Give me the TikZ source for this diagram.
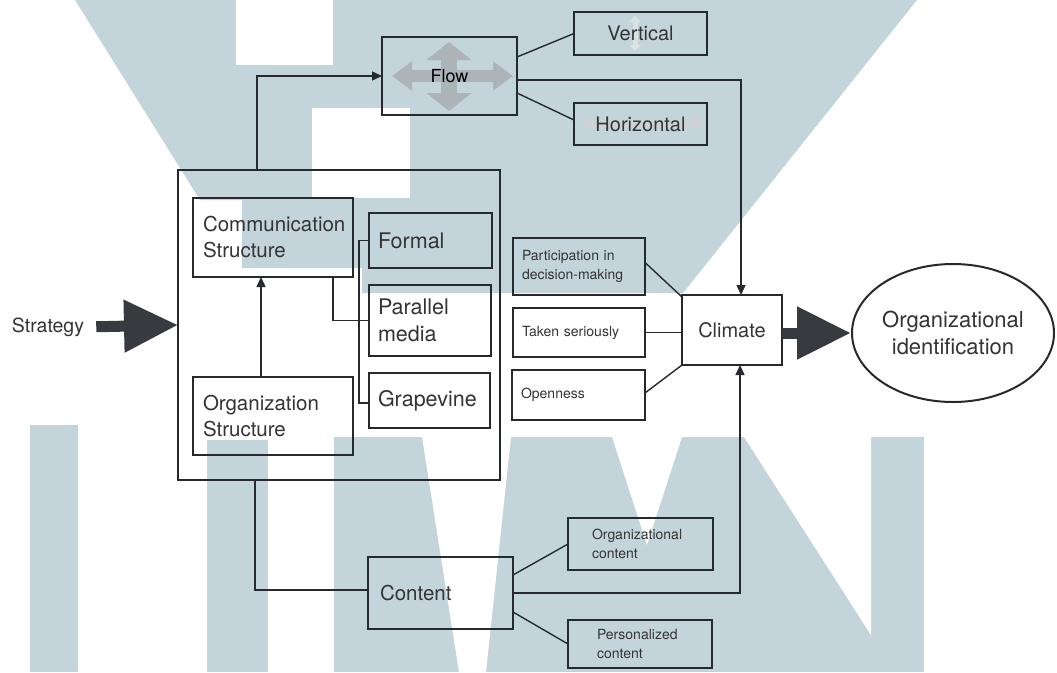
\documentclass[tikz,border=0pt]{standalone}
\usepackage{fontspec}
\setmainfont{TeX Gyre Heros}
\usetikzlibrary{arrows.meta,shapes.geometric,calc}
\definecolor{ink}{RGB}{38,42,46}
\definecolor{txt}{RGB}{52,52,52}
\definecolor{wm}{RGB}{196,212,219}
\definecolor{ghost}{RGB}{172,180,183}
\tikzset{
  bx/.style={draw=ink, line width=1.4pt, inner sep=0pt, outer sep=0pt, text=txt},
  tb/.style={bx, line width=2.4pt},
  bigf/.style={font=\fontsize{20.5}{26}\selectfont},
  smallf/.style={font=\fontsize{14}{19}\selectfont},
  conn/.style={draw=ink, line width=1.4pt},
  arr/.style={conn, -{Triangle[length=10pt,width=9pt]}},
  fat/.style={draw=ink!92, line width=11pt, -{Triangle[length=54pt,width=50pt]}},
}
\begin{document}
\begin{tikzpicture}[x=1pt,y=-1pt]
\useasboundingbox (0,0) rectangle (1057,672);
% background and watermark
\fill[white] (0,0) rectangle (1057,672);
\fill[wm] (75,0) -- (917,0) -- (683,293) -- (362,293) -- (362,268) -- (242,268) -- (242,200) -- (200,200) -- cycle;
\fill[white] (236,0) rectangle (333,65);
\fill[white] (312,108) rectangle (410,198);
\fill[wm] (30,425) rectangle (78,672);
\fill[wm] (207,440) rectangle (268,672);
\fill[wm] (334,437) rectangle (924,672);
\fill[white] (422,437) -- (511,437) -- (486,672) -- (459,672) -- cycle;
\fill[white] (612,437) -- (682,437) -- (647,545) -- cycle;
\fill[white] (744,437) -- (871,437) -- (871,635) -- cycle;

% ghost arrows in Flow / Horizontal / Vertical
\draw[ghost, line width=12pt, {Triangle[length=20pt,width=28pt]}-{Triangle[length=20pt,width=28pt]}] (392,76) -- (513,76);
\draw[ghost, line width=16pt, {Triangle[length=18pt,width=44pt]}-{Triangle[length=18pt,width=44pt]}] (449,42) -- (449,111);
\draw[ghost!60, line width=8pt, {Triangle[length=10pt,width=18pt]}-{Triangle[length=10pt,width=18pt]}] (580,124) -- (704,124);
\draw[ghost!40, line width=5pt, {Triangle[length=6pt,width=12pt]}-{Triangle[length=6pt,width=12pt]}] (635,16) -- (635,51);

% nodes
\node[bx, minimum width=322pt, minimum height=310pt] (big) at (339,325) {};
\node[bx, bigf, minimum width=160pt, minimum height=79pt, inner xsep=10pt, text width=140pt, align=left] (comm) at (273,237.5) {Communication\\Structure};
\node[bx, bigf, minimum width=160pt, minimum height=78pt, inner xsep=10pt, text width=140pt, align=left] (org) at (273,416) {Organization\\Structure};
\node[tb, font=\fontsize{21.5}{27}\selectfont, minimum width=123pt, minimum height=55pt, inner xsep=9pt, text width=105pt, align=left] (formal) at (430.5,240.5) {Formal};
\node[bx, font=\fontsize{21.5}{27}\selectfont, minimum width=122pt, minimum height=71pt, inner xsep=9pt, text width=104pt, align=left] (parallel) at (430,320.5) {Parallel\\media};
\node[bx, font=\fontsize{21.5}{27}\selectfont, minimum width=121pt, minimum height=55pt, inner xsep=9pt, text width=103pt, align=left] (grape) at (429.5,400.5) {Grapevine};

\node[tb, font=\fontsize{18}{22}\selectfont, text=black, minimum width=135pt, minimum height=78pt] (flow) at (449.5,76) {Flow};
\node[tb, font=\fontsize{20}{24}\selectfont, minimum width=133pt, minimum height=43pt] (vert) at (640.5,33.5) {Vertical};
\node[tb, font=\fontsize{20}{24}\selectfont, minimum width=133pt, minimum height=42pt] (horiz) at (640.5,124) {Horizontal};

\node[bx, smallf, minimum width=132pt, minimum height=57pt, inner xsep=9pt, text width=114pt, align=left] (part) at (579,266.5) {Participation in\\decision-making};
\node[bx, smallf, minimum width=132pt, minimum height=49pt, inner xsep=9pt, text width=114pt, align=left] (taken) at (579,332.5) {Taken seriously};
\node[bx, smallf, minimum width=133pt, minimum height=50pt, inner xsep=9pt, text width=115pt, align=left] (open) at (578.5,395) {Openness};
\node[bx, font=\fontsize{20}{24}\selectfont, minimum width=100pt, minimum height=70pt] (climate) at (732,330) {Climate};

\node[draw=ink, line width=2pt, ellipse, inner sep=0pt, minimum width=202pt, minimum height=138pt, text=txt, font=\fontsize{22}{27}\selectfont, align=center] (ident) at (953,333) {Organizational\\identification};

\node[text=txt, font=\fontsize{19.5}{24}\selectfont, inner sep=0pt] (strat) at (48,327) {Strategy};

\node[tb, font=\fontsize{20.5}{25}\selectfont, minimum width=145pt, minimum height=72pt, inner xsep=12pt, text width=121pt, align=left] (content) at (440.5,593) {Content};
\node[tb, smallf, minimum width=145pt, minimum height=52pt, inner xsep=24pt, text width=97pt, align=left] (orgc) at (640.5,544) {Organizational\\content};
\node[tb, smallf, minimum width=144pt, minimum height=48pt, inner xsep=29pt, text width=86pt, align=left] (pers) at (640,644) {Personalized\\content};

% connectors
\draw[arr] ([xshift=-82pt]big.north) |- (flow.west);
\draw[conn] ([yshift=19pt]flow.east) -- (vert.west);
\draw[conn] ([yshift=-17pt]flow.east) -- ([yshift=4pt]horiz.west);
\draw[arr] ([yshift=-4pt]flow.east) -| ([xshift=9pt]climate.north);

\draw[arr] ([xshift=-12pt]org.north) -- ([xshift=-12pt]comm.south);
\draw[conn] ([xshift=60pt]comm.south) |- (parallel.west);
\draw[conn] (formal.west) -- ++(-10,0) |- ([yshift=-2.5pt]grape.west);

\draw[conn] ([yshift=4pt]part.east) -- ([yshift=-2pt]climate.north west);
\draw[conn] (taken.east) -- (taken.east -| climate.west);
\draw[conn] ([yshift=2pt]open.east) -- (climate.south west);

\draw[fat, shorten <=12pt] (strat.east) -- (big.west);
\draw[fat] ([yshift=-3pt]climate.east) -- (ident.west);

\draw[conn] ([xshift=-84pt]big.south) |- ([yshift=3pt]content.west);
\draw[conn] ([yshift=18pt]content.east) -- (orgc.west);
\draw[conn] ([yshift=-19pt]content.east) -- (pers.west);
\draw[arr] (content.east) -| ([xshift=8pt]climate.south);
\end{tikzpicture}
\end{document}
